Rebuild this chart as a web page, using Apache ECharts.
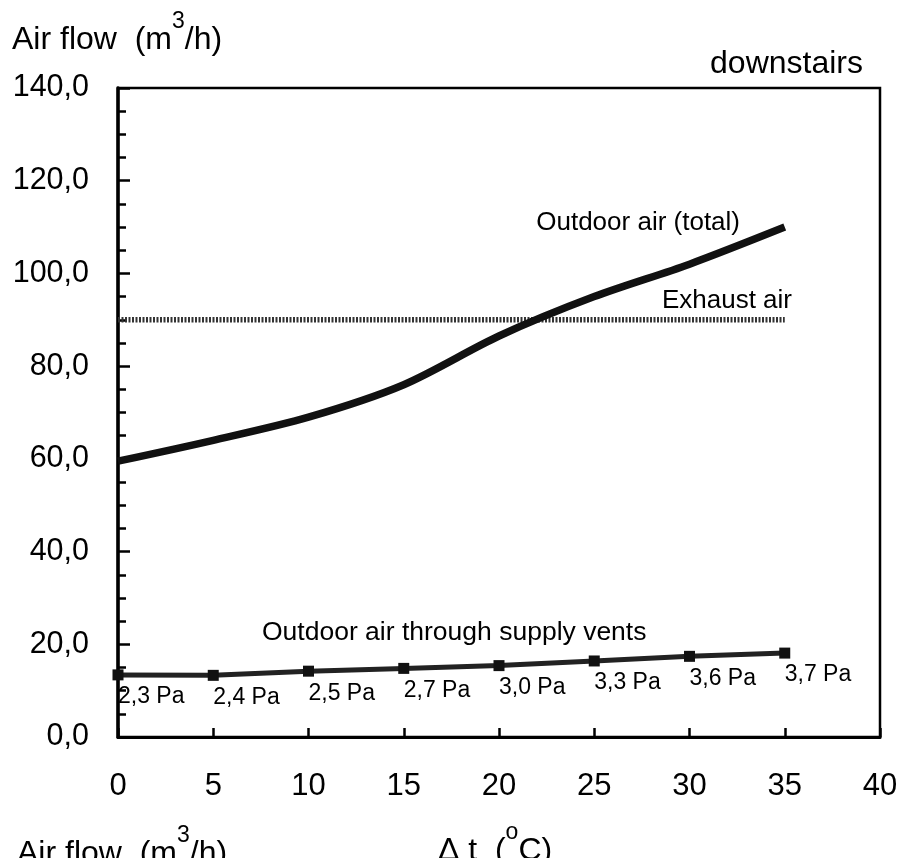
<!DOCTYPE html>
<html><head><meta charset="utf-8">
<script src="https://cdn.jsdelivr.net/npm/echarts@6/dist/echarts.min.js"></script>
<style>html,body{margin:0;padding:0;background:#fff}#c{width:902px;height:858px}</style>
</head><body><div id="c"></div>
<script>
// ---- data ----
const deltaT = [0, 5, 10, 15, 20, 25, 30, 35];
const outdoorTotal = [59.5, 64, 69, 76, 86.5, 95, 102, 110];
const exhaustAir = [90, 90, 90, 90, 90, 90, 90, 90];
const supplyVents = [13.4, 13.3, 14.2, 14.8, 15.4, 16.4, 17.4, 18.1];
const pressureLabels = ['2,3 Pa', '2,4 Pa', '2,5 Pa', '2,7 Pa', '3,0 Pa', '3,3 Pa', '3,6 Pa', '3,7 Pa'];
const xTickValues = [0, 5, 10, 15, 20, 25, 30, 35, 40];
const yTickValues = [0, 20, 40, 60, 80, 100, 120, 140];

const F = 'Liberation Sans, Arial, Helvetica, sans-serif';
const pairs = (ys) => deltaT.map((t, i) => [t, ys[i]]);
const supRich = {
  a: { fontFamily: F, fontSize: 32, lineHeight: 46, verticalAlign: 'bottom' },
  s: { fontFamily: F, fontSize: 23, lineHeight: 30, verticalAlign: 'top' }
};

const chart = echarts.init(document.getElementById('c'), null, { renderer: 'canvas' });
chart.setOption({
  backgroundColor: '#fff',
  animation: false,
  grid: { left: 118, right: 22, top: 88, bottom: 121, show: true, borderColor: '#000', borderWidth: 2.5, backgroundColor: 'transparent' },
  xAxis: {
    type: 'value', min: xTickValues[0], max: xTickValues[xTickValues.length - 1], interval: 5,
    axisLine: { show: true, onZero: false, lineStyle: { color: '#000', width: 3 } },
    axisTick: { show: true, inside: true, length: 9, lineStyle: { color: '#000', width: 2.5 } },
    splitLine: { show: false },
    axisLabel: { color: '#000', fontFamily: F, fontSize: 31, margin: 34 }
  },
  yAxis: {
    type: 'value', min: yTickValues[0], max: yTickValues[yTickValues.length - 1], interval: 20,
    axisLine: { show: true, lineStyle: { color: '#000', width: 3.5 } },
    axisTick: { show: true, inside: true, length: 12, lineStyle: { color: '#000', width: 2.5 } },
    minorTick: { show: true, splitNumber: 4, length: 8, lineStyle: { color: '#000', width: 2.5 } },
    splitLine: { show: false },
    axisLabel: { color: '#000', fontFamily: F, fontSize: 30.5, margin: 29,
      formatter: v => v.toFixed(1).replace('.', ',') }
  },
  series: [
    {
      name: 'Exhaust air', type: 'line', data: pairs(exhaustAir), showSymbol: false, symbol: 'none',
      lineStyle: { color: '#333', width: 5.5, type: [2, 1.5] }, z: 2
    },
    {
      name: 'Outdoor air (total)', type: 'line', data: pairs(outdoorTotal), smooth: 0.3, showSymbol: false, symbol: 'none',
      lineStyle: { color: '#111', width: 7.5, cap: 'butt' }, z: 3
    },
    {
      name: 'Outdoor air through supply vents', type: 'line', data: pairs(supplyVents),
      symbol: 'rect', symbolSize: 11, showSymbol: true,
      itemStyle: { color: '#111' },
      lineStyle: { color: '#222', width: 5 },
      label: {
        show: true, position: 'bottom', distance: 5, align: 'left', verticalAlign: 'top',
        color: '#000', fontFamily: F, fontSize: 23,
        formatter: p => pressureLabels[p.dataIndex]
      }, z: 4
    }
  ],
  graphic: [
    { type: 'text', x: 12, y: 10, style: { text: '{a|Air flow  (m}{s|3}{a|/h)}', fill: '#000', rich: supRich } },
    { type: 'text', x: 863, y: 64, style: { text: 'downstairs', fill: '#000', font: '32px ' + F, align: 'right', verticalAlign: 'middle' } },
    { type: 'text', x: 740, y: 223, style: { text: 'Outdoor air (total)', fill: '#000', font: '26px ' + F, align: 'right', verticalAlign: 'middle' } },
    { type: 'text', x: 792, y: 301, style: { text: 'Exhaust air', fill: '#000', font: '26px ' + F, align: 'right', verticalAlign: 'middle' } },
    { type: 'text', x: 262, y: 633, style: { text: 'Outdoor air through supply vents', fill: '#000', font: '26.5px ' + F, align: 'left', verticalAlign: 'middle' } },
    { type: 'text', x: 438, y: 821, style: { text: '{a|Δ t  (}{s|o}{a|C)}', fill: '#000', rich: supRich } },
    { type: 'text', x: 17, y: 824, style: { text: '{a|Air flow  (m}{s|3}{a|/h)}', fill: '#000', rich: supRich } }
  ]
});
</script></body></html>
